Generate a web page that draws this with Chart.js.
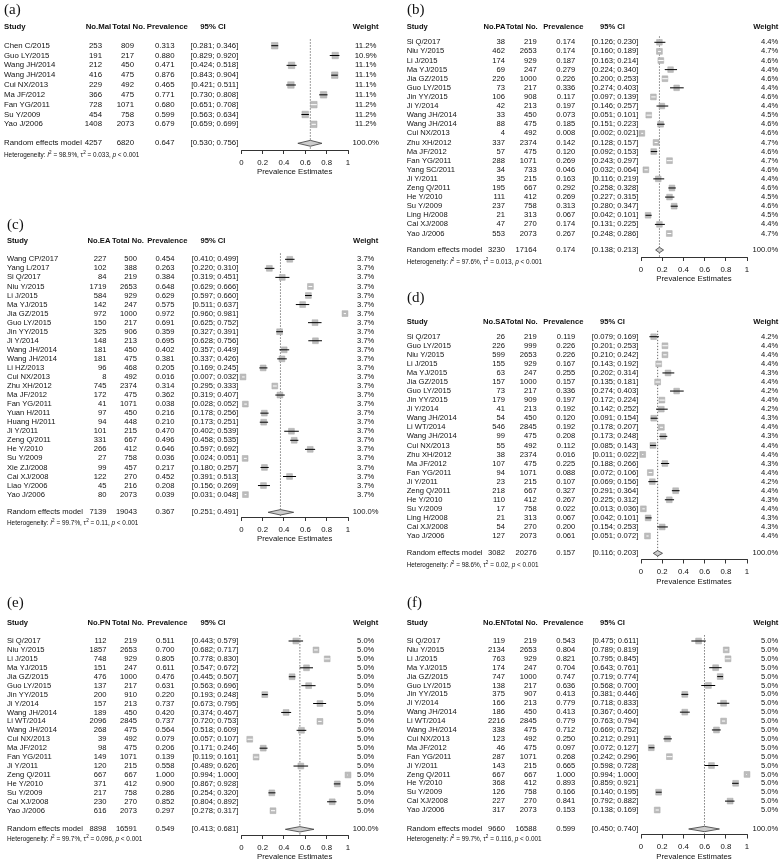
<!DOCTYPE html>
<html>
<head>
<meta charset="utf-8">
<title>Prevalence forest plots</title>
<script src="https://cdn.jsdelivr.net/npm/chart.js@4.4.1/dist/chart.umd.min.js"></script>
<style>
  body { margin: 0; background: #fff; }
  #fig { position: relative; width: 781px; height: 862px; overflow: hidden; background: #fff; }
  #fig canvas { position: absolute; }
</style>
</head>
<body>
<div id="fig"></div>
<script>
// (a) No.Mal
const studyA = ['Chen C/2015', 'Guo LY/2015', 'Wang JH/2014', 'Wang JH/2014', 'Cui NX/2013', 'Ma JF/2012', 'Fan YG/2011', 'Su Y/2009', 'Yao J/2006'];
const eventsA = [253, 191, 212, 416, 229, 366, 728, 454, 1408];
const totalA = [809, 217, 450, 475, 492, 475, 1071, 758, 2073];
const prevA = [0.313, 0.880, 0.471, 0.876, 0.465, 0.771, 0.680, 0.599, 0.679];
const lowA = [0.281, 0.829, 0.424, 0.843, 0.421, 0.730, 0.651, 0.563, 0.659];
const highA = [0.346, 0.920, 0.518, 0.904, 0.511, 0.808, 0.708, 0.634, 0.699];
const weightA = [11.2, 10.9, 11.1, 11.1, 11.1, 11.1, 11.2, 11.2, 11.2];
const pooledA = [4257, 6820, 0.647, 0.530, 0.756];
const hetA = ['98.9%', '0.033'];

// (b) No.PA
const studyB = ['Si Q/2017', 'Niu Y/2015', 'Li J/2015', 'Ma YJ/2015', 'Jia GZ/2015', 'Guo LY/2015', 'Jin YY/2015', 'Ji Y/2014', 'Wang JH/2014', 'Wang JH/2014', 'Cui NX/2013', 'Zhu XH/2012', 'Ma JF/2012', 'Fan YG/2011', 'Yang SC/2011', 'Ji Y/2011', 'Zeng Q/2011', 'He Y/2010', 'Su Y/2009', 'Ling H/2008', 'Cai XJ/2008', 'Yao J/2006'];
const eventsB = [38, 462, 174, 69, 226, 73, 106, 42, 33, 88, 4, 337, 57, 288, 34, 35, 195, 111, 237, 21, 47, 553];
const totalB = [219, 2653, 929, 247, 1000, 217, 908, 213, 450, 475, 492, 2374, 475, 1071, 733, 215, 667, 412, 758, 313, 270, 2073];
const prevB = [0.174, 0.174, 0.187, 0.279, 0.226, 0.336, 0.117, 0.197, 0.073, 0.185, 0.008, 0.142, 0.120, 0.269, 0.046, 0.163, 0.292, 0.269, 0.313, 0.067, 0.174, 0.267];
const lowB = [0.126, 0.160, 0.163, 0.224, 0.200, 0.274, 0.097, 0.146, 0.051, 0.151, 0.002, 0.128, 0.092, 0.243, 0.032, 0.116, 0.258, 0.227, 0.280, 0.042, 0.131, 0.248];
const highB = [0.230, 0.189, 0.214, 0.340, 0.253, 0.403, 0.139, 0.257, 0.101, 0.223, 0.021, 0.157, 0.153, 0.297, 0.064, 0.219, 0.328, 0.315, 0.347, 0.101, 0.225, 0.286];
const weightB = [4.4, 4.7, 4.6, 4.4, 4.6, 4.4, 4.6, 4.4, 4.5, 4.6, 4.6, 4.7, 4.6, 4.7, 4.6, 4.4, 4.6, 4.5, 4.6, 4.5, 4.4, 4.7];
const pooledB = [3230, 17164, 0.174, 0.138, 0.213];
const hetB = ['97.6%', '0.013'];

// (c) No.EA
const studyC = ['Wang CP/2017', 'Yang L/2017', 'Si Q/2017', 'Niu Y/2015', 'Li J/2015', 'Ma YJ/2015', 'Jia GZ/2015', 'Guo LY/2015', 'Jin YY/2015', 'Ji Y/2014', 'Wang JH/2014', 'Wang JH/2014', 'Li HZ/2013', 'Cui NX/2013', 'Zhu XH/2012', 'Ma JF/2012', 'Fan YG/2011', 'Yuan H/2011', 'Huang H/2011', 'Ji Y/2011', 'Zeng Q/2011', 'He Y/2010', 'Su Y/2009', 'Xie ZJ/2008', 'Cai XJ/2008', 'Liao Y/2006', 'Yao J/2006'];
const eventsC = [227, 102, 84, 1719, 584, 142, 972, 150, 325, 148, 181, 181, 96, 8, 745, 172, 41, 97, 94, 101, 331, 266, 27, 99, 122, 45, 80];
const totalC = [500, 388, 219, 2653, 929, 247, 1000, 217, 906, 213, 450, 475, 468, 492, 2374, 475, 1071, 450, 448, 215, 667, 412, 758, 457, 270, 216, 2073];
const prevC = [0.454, 0.263, 0.384, 0.648, 0.629, 0.575, 0.972, 0.691, 0.359, 0.695, 0.402, 0.381, 0.205, 0.016, 0.314, 0.362, 0.038, 0.216, 0.210, 0.470, 0.496, 0.646, 0.036, 0.217, 0.452, 0.208, 0.039];
const lowC = [0.410, 0.220, 0.319, 0.629, 0.597, 0.511, 0.960, 0.625, 0.327, 0.628, 0.357, 0.337, 0.169, 0.007, 0.295, 0.319, 0.028, 0.178, 0.173, 0.402, 0.458, 0.597, 0.024, 0.180, 0.391, 0.156, 0.031];
const highC = [0.499, 0.310, 0.451, 0.666, 0.660, 0.637, 0.981, 0.752, 0.391, 0.756, 0.449, 0.426, 0.245, 0.032, 0.333, 0.407, 0.052, 0.256, 0.251, 0.539, 0.535, 0.692, 0.051, 0.257, 0.513, 0.269, 0.048];
const weightC = [3.7, 3.7, 3.7, 3.7, 3.7, 3.7, 3.7, 3.7, 3.7, 3.7, 3.7, 3.7, 3.7, 3.7, 3.7, 3.7, 3.7, 3.7, 3.7, 3.7, 3.7, 3.7, 3.7, 3.7, 3.7, 3.7, 3.7];
const pooledC = [7139, 19043, 0.367, 0.251, 0.491];
const hetC = ['99.7%', '0.11'];

// (d) No.SA
const studyD = ['Si Q/2017', 'Guo LY/2015', 'Niu Y/2015', 'Li J/2015', 'Ma YJ/2015', 'Jia GZ/2015', 'Guo LY/2015', 'Jin YY/2015', 'Ji Y/2014', 'Wang JH/2014', 'Li WT/2014', 'Wang JH/2014', 'Cui NX/2013', 'Zhu XH/2012', 'Ma JF/2012', 'Fan YG/2011', 'Ji Y/2011', 'Zeng Q/2011', 'He Y/2010', 'Su Y/2009', 'Ling H/2008', 'Cai XJ/2008', 'Yao J/2006'];
const eventsD = [26, 226, 599, 155, 63, 157, 73, 179, 41, 54, 546, 99, 55, 38, 107, 94, 23, 218, 110, 17, 21, 54, 127];
const totalD = [219, 999, 2653, 929, 247, 1000, 217, 909, 213, 450, 2845, 475, 492, 2374, 475, 1071, 215, 667, 412, 758, 313, 270, 2073];
const prevD = [0.119, 0.226, 0.226, 0.167, 0.255, 0.157, 0.336, 0.197, 0.192, 0.120, 0.192, 0.208, 0.112, 0.016, 0.225, 0.088, 0.107, 0.327, 0.267, 0.022, 0.067, 0.200, 0.061];
const lowD = [0.079, 0.201, 0.210, 0.143, 0.202, 0.135, 0.274, 0.172, 0.142, 0.091, 0.178, 0.173, 0.085, 0.011, 0.188, 0.072, 0.069, 0.291, 0.225, 0.013, 0.042, 0.154, 0.051];
const highD = [0.169, 0.253, 0.242, 0.192, 0.314, 0.181, 0.403, 0.224, 0.252, 0.154, 0.207, 0.248, 0.143, 0.022, 0.266, 0.106, 0.156, 0.364, 0.312, 0.036, 0.101, 0.253, 0.072];
const weightD = [4.2, 4.4, 4.4, 4.4, 4.3, 4.4, 4.2, 4.4, 4.2, 4.3, 4.4, 4.3, 4.4, 4.4, 4.3, 4.4, 4.2, 4.4, 4.3, 4.4, 4.3, 4.3, 4.4];
const pooledD = [3082, 20276, 0.157, 0.116, 0.203];
const hetD = ['98.6%', '0.02'];

// (e) No.PN
const studyE = ['Si Q/2017', 'Niu Y/2015', 'Li J/2015', 'Ma YJ/2015', 'Jia GZ/2015', 'Guo LY/2015', 'Jin YY/2015', 'Ji Y/2014', 'Wang JH/2014', 'Li WT/2014', 'Wang JH/2014', 'Cui NX/2013', 'Ma JF/2012', 'Fan YG/2011', 'Ji Y/2011', 'Zeng Q/2011', 'He Y/2010', 'Su Y/2009', 'Cai XJ/2008', 'Yao J/2006'];
const eventsE = [112, 1857, 748, 151, 476, 137, 200, 157, 189, 2096, 268, 39, 98, 149, 120, 667, 371, 217, 230, 616];
const totalE = [219, 2653, 929, 247, 1000, 217, 910, 213, 450, 2845, 475, 492, 475, 1071, 215, 667, 412, 758, 270, 2073];
const prevE = [0.511, 0.700, 0.805, 0.611, 0.476, 0.631, 0.220, 0.737, 0.420, 0.737, 0.564, 0.079, 0.206, 0.139, 0.558, 1.000, 0.900, 0.286, 0.852, 0.297];
const lowE = [0.443, 0.682, 0.778, 0.547, 0.445, 0.563, 0.193, 0.673, 0.374, 0.720, 0.518, 0.057, 0.171, 0.119, 0.489, 0.994, 0.867, 0.254, 0.804, 0.278];
const highE = [0.579, 0.717, 0.830, 0.672, 0.507, 0.696, 0.248, 0.795, 0.467, 0.753, 0.609, 0.107, 0.246, 0.161, 0.626, 1.000, 0.928, 0.320, 0.892, 0.317];
const weightE = [5.0, 5.0, 5.0, 5.0, 5.0, 5.0, 5.0, 5.0, 5.0, 5.0, 5.0, 5.0, 5.0, 5.0, 5.0, 5.0, 5.0, 5.0, 5.0, 5.0];
const pooledE = [8898, 16591, 0.549, 0.413, 0.681];
const hetE = ['99.7%', '0.096'];

// (f) No.EN
const studyF = ['Si Q/2017', 'Niu Y/2015', 'Li J/2015', 'Ma YJ/2015', 'Jia GZ/2015', 'Guo LY/2015', 'Jin YY/2015', 'Ji Y/2014', 'Wang JH/2014', 'Li WT/2014', 'Wang JH/2014', 'Cui NX/2013', 'Ma JF/2012', 'Fan YG/2011', 'Ji Y/2011', 'Zeng Q/2011', 'He Y/2010', 'Su Y/2009', 'Cai XJ/2008', 'Yao J/2006'];
const eventsF = [119, 2134, 763, 174, 747, 138, 375, 166, 186, 2216, 338, 123, 46, 287, 143, 667, 368, 126, 227, 317];
const totalF = [219, 2653, 929, 247, 1000, 217, 907, 213, 450, 2845, 475, 492, 475, 1071, 215, 667, 412, 758, 270, 2073];
const prevF = [0.543, 0.804, 0.821, 0.704, 0.747, 0.636, 0.413, 0.779, 0.413, 0.779, 0.712, 0.250, 0.097, 0.268, 0.665, 1.000, 0.893, 0.166, 0.841, 0.153];
const lowF = [0.475, 0.789, 0.795, 0.643, 0.719, 0.568, 0.381, 0.718, 0.367, 0.763, 0.669, 0.212, 0.072, 0.242, 0.598, 0.994, 0.859, 0.140, 0.792, 0.138];
const highF = [0.611, 0.819, 0.845, 0.761, 0.774, 0.700, 0.446, 0.833, 0.460, 0.794, 0.752, 0.291, 0.127, 0.296, 0.728, 1.000, 0.921, 0.195, 0.882, 0.169];
const weightF = [5.0, 5.0, 5.0, 5.0, 5.0, 5.0, 5.0, 5.0, 5.0, 5.0, 5.0, 5.0, 5.0, 5.0, 5.0, 5.0, 5.0, 5.0, 5.0, 5.0];
const pooledF = [9660, 16588, 0.599, 0.450, 0.740];
const hetF = ['99.7%', '0.116'];

const xTicks = [0, 0.2, 0.4, 0.6, 0.8, 1];

// layout (canvas-relative x positions of the table columns)
const FONT = '"Liberation Sans", Arial, Helvetica, sans-serif';
const leftCols = { study: 7, noR: 106.5, noH: 99, totR: 137, totH: 128, prevR: 174.5, prevH: 167.3, ciR: 238.3, ciH: 213, wX: 365.7, wAlign: 'center', x0: 241.3, x1: 348 };
const rightCols = { study: 16.7, noR: 115, noH: 104.5, totR: 146.7, totH: 131.7, prevR: 185.3, prevH: 173.3, ciR: 248.3, ciH: 222.5, wX: 388.3, wAlign: 'right', x0: 251, x1: 357 };
const colsA = Object.assign({}, leftCols, { study: 4, noR: 102, noH: 98.5, totR: 134, totH: 128.7 });

const panels = [
  { tag: 'a', col: 'No.Mal', study: studyA, events: eventsA, total: totalA, prev: prevA, low: lowA, high: highA, weight: weightA, pooled: pooledA, het: hetA,
    box: { left: 0, top: 0, w: 390, h: 182, header: 27, first: 45.7, last: 124.3, summary: 143.3, axis: 150, het: 155.5, tagX: 4, tagY: 14 }, cols: colsA, fs: 7.8, r: 4.6 },
  { tag: 'b', col: 'No.PA', study: studyB, events: eventsB, total: totalB, prev: prevB, low: lowB, high: highB, weight: weightB, pooled: pooledB, het: hetB,
    box: { left: 390, top: 0, w: 391, h: 290, header: 27, first: 42.3, last: 233.5, summary: 250, axis: 257, het: 262.5, tagX: 17, tagY: 14 }, cols: rightCols, fs: 7.6, r: 4.1 },
  { tag: 'c', col: 'No.EA', study: studyC, events: eventsC, total: totalC, prev: prevC, low: lowC, high: highC, weight: weightC, pooled: pooledC, het: hetC,
    box: { left: 0, top: 205, w: 390, h: 352, header: 241, first: 259.3, last: 494.6, summary: 512.3, axis: 517, het: 523.5, tagX: 7, tagY: 24 }, cols: leftCols, fs: 7.6, r: 4.1 },
  { tag: 'd', col: 'No.SA', study: studyD, events: eventsD, total: totalD, prev: prevD, low: lowD, high: highD, weight: weightD, pooled: pooledD, het: hetD,
    box: { left: 390, top: 288, w: 391, h: 300, header: 321.7, first: 336.7, last: 536, summary: 553.3, axis: 559.5, het: 565, tagX: 17, tagY: 14 }, cols: rightCols, fs: 7.6, r: 4.1 },
  { tag: 'e', col: 'No.PN', study: studyE, events: eventsE, total: totalE, prev: prevE, low: lowE, high: highE, weight: weightE, pooled: pooledE, het: hetE,
    box: { left: 0, top: 590, w: 390, h: 272, header: 623.3, first: 641, last: 810.7, summary: 829.3, axis: 835, het: 839.5, tagX: 7, tagY: 17 }, cols: leftCols, fs: 7.6, r: 4.1 },
  { tag: 'f', col: 'No.EN', study: studyF, events: eventsF, total: totalF, prev: prevF, low: lowF, high: highF, weight: weightF, pooled: pooledF, het: hetF,
    box: { left: 390, top: 590, w: 391, h: 272, header: 623.3, first: 641, last: 810, summary: 829, axis: 834.5, het: 839, tagX: 17, tagY: 17 }, cols: rightCols, fs: 7.6, r: 4.1 }
];

const AXIS_H = 27;

function ci(lo, hi) {
  return '[' + lo.toFixed(3) + '; ' + hi.toFixed(3) + ']';
}

function drawHet(ctx, x, y, size, i2, tau2) {
  const parts = [['Heterogeneity: ', ''], ['I', 'i'], ['2', 's'], [' = ' + i2 + ', ', ''], ['\u03c4', ''], ['2', 's'],
    [' = ' + tau2 + ', ', ''], ['p', 'i'], [' < 0.001', '']];
  let cx = x;
  for (const [t, st] of parts) {
    const fs = st === 's' ? size * 0.72 : size;
    ctx.font = (st === 'i' ? 'italic ' : '') + fs + 'px ' + FONT;
    ctx.fillText(t, cx, st === 's' ? y - size * 0.42 : y);
    cx += ctx.measureText(t).width;
  }
}

// draws the study table, the panel tag and the heterogeneity line
const tablePlugin = {
  id: 'forestTable',
  afterDraw(chart, args, opts) {
    const p = opts.panel;
    if (!p) return;
    const ctx = chart.ctx, ys = chart.scales.y, c = p.cols, b = p.box;
    const rowOf = px => (px - b.first) / ((b.last - b.first) / (p.study.length - 1));
    const put = (t, x, y, align) => { ctx.textAlign = align; ctx.fillText(t, x, y); };
    ctx.save();
    ctx.fillStyle = '#111';

    ctx.textBaseline = 'alphabetic';
    ctx.font = '15px "Liberation Serif", "Times New Roman", serif';
    put('(' + p.tag + ')', b.tagX, b.tagY, 'left');

    ctx.textBaseline = 'middle';
    let y = ys.getPixelForValue(rowOf(b.header));
    ctx.font = 'bold ' + p.fs + 'px ' + FONT;
    put('Study', c.study, y, 'left');
    put(p.col, c.noH, y, 'center');
    put('Total No.', c.totH, y, 'center');
    put('Prevalence', c.prevH, y, 'center');
    put('95% CI', c.ciH, y, 'center');
    put('Weight', c.wX, y, c.wAlign);

    ctx.font = p.fs + 'px ' + FONT;
    p.study.forEach((name, i) => {
      const yy = ys.getPixelForValue(i);
      put(name, c.study, yy, 'left');
      put(String(p.events[i]), c.noR, yy, 'right');
      put(String(p.total[i]), c.totR, yy, 'right');
      put(p.prev[i].toFixed(3), c.prevR, yy, 'right');
      put(ci(p.low[i], p.high[i]), c.ciR, yy, 'right');
      put(p.weight[i].toFixed(1) + '%', c.wX, yy, c.wAlign);
    });

    y = ys.getPixelForValue(rowOf(b.summary));
    put('Random effects model', c.study, y, 'left');
    put(String(p.pooled[0]), c.noR, y, 'right');
    put(String(p.pooled[1]), c.totR, y, 'right');
    put(p.pooled[2].toFixed(3), c.prevR, y, 'right');
    put(ci(p.pooled[3], p.pooled[4]), c.ciR, y, 'right');
    put('100.0%', c.wX, y, c.wAlign);

    ctx.textAlign = 'left';
    drawHet(ctx, c.study, ys.getPixelForValue(rowOf(b.het)), 6.4, p.het[0], p.het[1]);
    ctx.restore();
  }
};

function makeChart(p) {
  const b = p.box, c = p.cols, n = p.study.length;
  const s = (b.last - b.first) / (n - 1);
  const rowOf = px => (px - b.first) / s;
  const chartTop = b.header - 7;
  const sumRow = rowOf(b.summary);
  const est = p.pooled[2], lo = p.pooled[3], hi = p.pooled[4];
  const wMax = Math.max(...p.weight);
  const radius = i => p.r * Math.sqrt(p.weight[i] / wMax);

  const cv = document.createElement('canvas');
  cv.width = b.w;
  cv.height = b.h;
  cv.style.left = b.left + 'px';
  cv.style.top = b.top + 'px';
  document.getElementById('fig').appendChild(cv);

  return new Chart(cv, {
    type: 'scatter',
    data: {
      datasets: [
        { // confidence intervals
          type: 'bar', indexAxis: 'y', order: 1, clip: false,
          data: p.low.map((l, i) => ({ y: i, x: [l, p.high[i]] })),
          barThickness: 1, borderWidth: 0, inflateAmount: 0,
          backgroundColor: ctx => {
            if (!ctx.raw) return '#000';
            const xs = ctx.chart.scales.x;
            const w = Math.abs(xs.getPixelForValue(ctx.raw.x[1]) - xs.getPixelForValue(ctx.raw.x[0]));
            return w < radius(ctx.dataIndex) * 1.414 ? '#ffffff' : '#000000';
          }
        },
        { // study squares
          type: 'scatter', order: 2, clip: false,
          data: p.prev.map((v, i) => ({ x: v, y: i })),
          pointStyle: 'rect',
          pointRadius: ctx => radius(ctx.dataIndex || 0),
          pointHoverRadius: ctx => radius(ctx.dataIndex || 0),
          backgroundColor: '#bcbcbc', borderColor: '#a6a6a6', borderWidth: 0.5
        },
        { // pooled estimate reference line
          type: 'line', order: 5, clip: false,
          data: [{ x: est, y: -0.65 }, { x: est, y: rowOf(b.axis) }],
          borderColor: '#444', borderWidth: 0.8, borderDash: [1.3, 1.7], pointRadius: 0, fill: false
        },
        { // diamond, upper half
          type: 'line', order: 3, clip: false,
          data: [{ x: lo, y: sumRow }, { x: est, y: sumRow - 0.3 }, { x: hi, y: sumRow }],
          borderColor: '#3a3a3a', borderWidth: 0.8, pointRadius: 0, tension: 0, fill: false
        },
        { // diamond, lower half
          type: 'line', order: 3, clip: false,
          data: [{ x: lo, y: sumRow }, { x: est, y: sumRow + 0.3 }, { x: hi, y: sumRow }],
          borderColor: '#3a3a3a', borderWidth: 0.8, pointRadius: 0, tension: 0,
          fill: '-1', backgroundColor: '#cdcdcd'
        }
      ]
    },
    options: {
      responsive: false,
      animation: false,
      events: [],
      layout: {
        padding: {
          left: c.x0,
          right: b.w - c.x1,
          top: chartTop - b.top,
          bottom: b.h - (b.axis - b.top) - AXIS_H
        }
      },
      scales: {
        x: {
          type: 'linear', min: 0, max: 1, offset: false,
          afterBuildTicks: sc => { sc.ticks = xTicks.map(v => ({ value: v })); },
          afterFit: sc => { sc.height = AXIS_H; },
          grid: { display: true, drawOnChartArea: false, drawTicks: true, tickLength: 4, color: '#000', lineWidth: 0.8, offset: false },
          border: { display: true, color: '#000', width: 0.8 },
          ticks: { padding: 4, color: '#111', autoSkip: false, maxRotation: 0, font: { family: FONT, size: 7.8 }, callback: v => String(v) },
          title: { display: true, text: 'Prevalence Estimates', color: '#111', font: { family: FONT, size: 7.8 }, padding: 0 }
        },
        y: {
          type: 'linear', display: false, reverse: true, offset: false,
          min: rowOf(chartTop), max: rowOf(b.axis),
          grid: { display: false }
        }
      },
      plugins: {
        legend: { display: false },
        tooltip: { enabled: false },
        forestTable: { panel: p }
      }
    },
    plugins: [tablePlugin]
  });
}

panels.forEach(makeChart);
</script>
</body>
</html>
